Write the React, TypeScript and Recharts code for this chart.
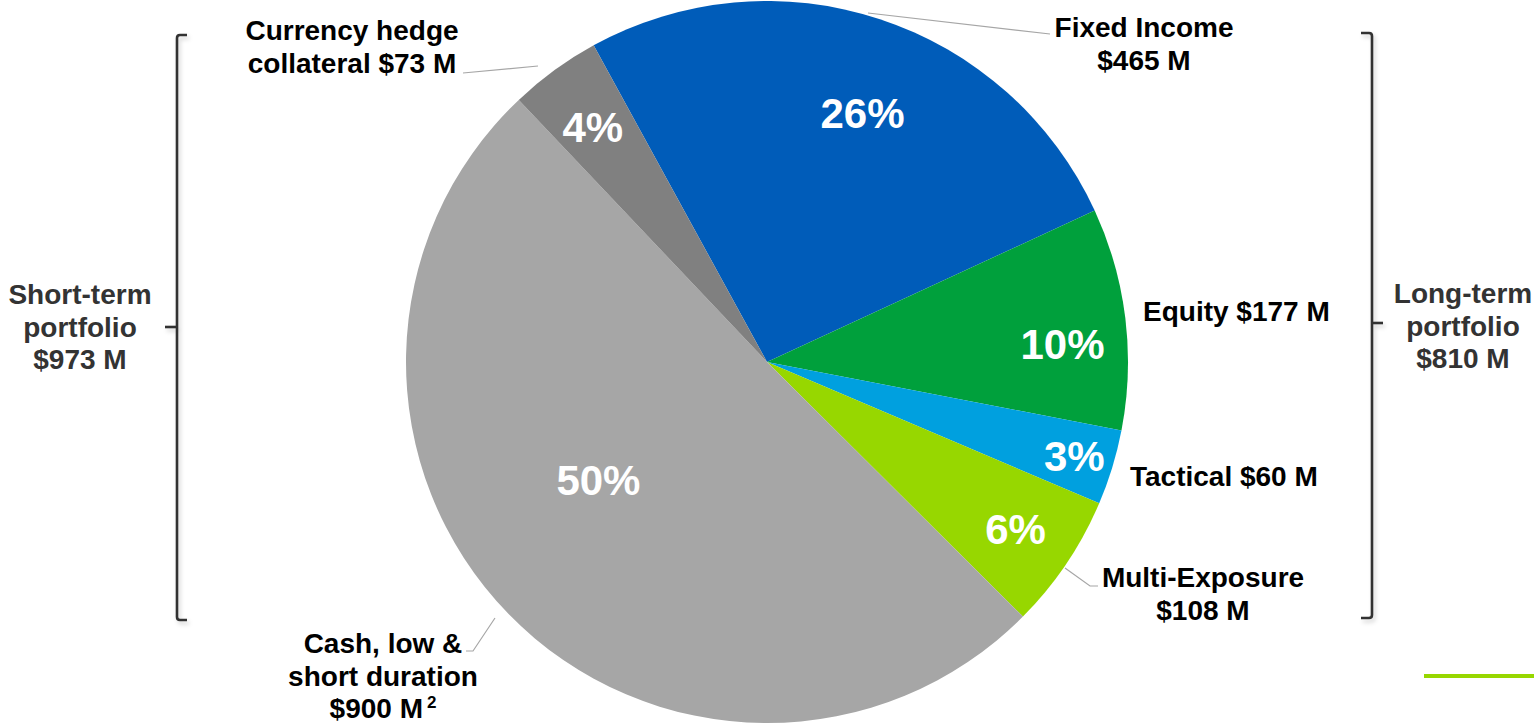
import React from "react";
import { PieChart, Pie, Cell } from "recharts";

const categories = ["Fixed Income", "Equity", "Tactical", "Multi-Exposure", "Cash, low & short duration", "Currency hedge collateral"];
const values = [465, 177, 60, 108, 900, 73];
const valueLabels = ["$465 M", "$177 M", "$60 M", "$108 M", "$900 M", "$73 M"];
const colors = ["#005CB9", "#00A03C", "#00A0DF", "#97D700", "#A6A6A6", "#808080"];
const groupLabels = ["Short-term portfolio $973 M", "Long-term portfolio $810 M"];

const data = categories.map((c, i) => ({ name: c, value: values[i] }));

const W = 1534;
const H = 724;
const CX = 767;
const CY = 362;
const R = 361;
const START = 118.7;

// layout of labels (not data)
const pctLayout = [
  { f: 0.74, da: -2.7 },
  { f: 0.82, da: -3.4 },
  { f: 0.89, da: 0 },
  { f: 0.83, da: 0 },
  { f: 0.57, da: -9.3 },
  { f: 0.81, da: 0.5 },
];

type Ext = { x: number; y: number; anchor: "start" | "middle" | "end"; lines: string[]; sup?: string; leader?: number[][] };
const extLayout: Ext[] = [
  { x: 1144, y: 37, anchor: "middle", lines: ["Fixed Income", valueLabels[0]], leader: [[868, 13], [1050, 34]] },
  { x: 1143, y: 321, anchor: "start", lines: ["Equity " + valueLabels[1]] },
  { x: 1130, y: 486, anchor: "start", lines: ["Tactical " + valueLabels[2]] },
  { x: 1203, y: 587, anchor: "middle", lines: ["Multi-Exposure", valueLabels[3]], leader: [[1065, 568], [1090, 586], [1098, 586]] },
  { x: 383, y: 653, anchor: "middle", lines: ["Cash, low &", "short duration", valueLabels[4]], sup: "2", leader: [[495, 618], [473, 651], [466, 651]] },
  { x: 352, y: 40, anchor: "middle", lines: ["Currency hedge", "collateral " + valueLabels[5]], leader: [[538, 66], [463, 73]] },
];

const FONT = "'Liberation Sans', Arial, sans-serif";
const LH = 32.5;

const renderLabel = (props: any) => {
  const { cx, cy, midAngle, outerRadius, percent, index } = props;
  const pl = pctLayout[index];
  const a = ((midAngle + pl.da) * Math.PI) / 180;
  const r = outerRadius * pl.f;
  const px = cx + r * Math.cos(a);
  const py = cy - r * Math.sin(a);
  const ext = extLayout[index];
  return (
    <g key={"lbl" + index}>
      <text x={px} y={py} dy="0.36em" textAnchor="middle" fill="#FFFFFF" fontFamily={FONT} fontWeight="bold" fontSize={42}>
        {Math.round(percent * 100) + "%"}
      </text>
      {ext.leader && (
        <polyline points={ext.leader.map((p) => p.join(",")).join(" ")} fill="none" stroke="#A6A6A6" strokeWidth={1.2} />
      )}
      <text textAnchor={ext.anchor} fill="#000000" fontFamily={FONT} fontWeight="bold" fontSize={28}>
        {ext.lines.map((l, k) => (
          <tspan key={k} x={ext.x} y={ext.y + k * LH}>
            {l}
            {ext.sup && k === ext.lines.length - 1 ? (
              <tspan fontSize={17} dy={-10} dx={4}>{ext.sup}</tspan>
            ) : null}
          </tspan>
        ))}
      </text>
    </g>
  );
};

const groupLines = groupLabels.map((g) => {
  const parts = g.split(" ");
  return [parts[0], parts[1], parts.slice(2).join(" ")];
});

export default function App() {
  return (
    <div style={{ position: "absolute", left: 0, top: 0, width: W, height: H, background: "#FFFFFF" }}>
      <PieChart width={W} height={H} margin={{ top: 0, right: 0, bottom: 0, left: 0 }}>
        <Pie
          data={data}
          dataKey="value"
          nameKey="name"
          cx={CX}
          cy={CY}
          outerRadius={R}
          startAngle={START}
          endAngle={START - 360}
          stroke="none"
          label={renderLabel}
          labelLine={false}
          isAnimationActive={false}
        >
          {data.map((d, i) => (
            <Cell key={d.name} fill={colors[i]} />
          ))}
        </Pie>
      </PieChart>
      <svg width={W} height={H} style={{ position: "absolute", left: 0, top: 0, pointerEvents: "none" }}>
        <defs>
          <filter id="sh" x="-50%" y="-10%" width="200%" height="120%">
            <feDropShadow dx="2" dy="3" stdDeviation="2" floodColor="#000" floodOpacity="0.18" />
          </filter>
        </defs>
        <g filter="url(#sh)" fill="none" stroke="#333333" strokeWidth={2.6}>
          <path d="M187,35 L180,35 Q177,35 177,38 L177,617 Q177,620 180,620 L187,620" />
          <line x1={165} y1={327} x2={177} y2={327} />
          <path d="M1361,33 L1369,33 Q1372,33 1372,36 L1372,615 Q1372,618 1369,618 L1361,618" />
          <line x1={1372} y1={323} x2={1383} y2={323} />
        </g>
        <text textAnchor="middle" fill="#333333" fontFamily={FONT} fontWeight="bold" fontSize={28}>
          {groupLines[0].map((l, k) => (
            <tspan key={k} x={80} y={304 + k * LH}>{l}</tspan>
          ))}
        </text>
        <text textAnchor="middle" fill="#333333" fontFamily={FONT} fontWeight="bold" fontSize={28}>
          {groupLines[1].map((l, k) => (
            <tspan key={k} x={1463} y={303 + k * LH}>{l}</tspan>
          ))}
        </text>
        <line x1={1424} y1={676} x2={1534} y2={676} stroke="#97D700" strokeWidth={4} />
      </svg>
    </div>
  );
}
